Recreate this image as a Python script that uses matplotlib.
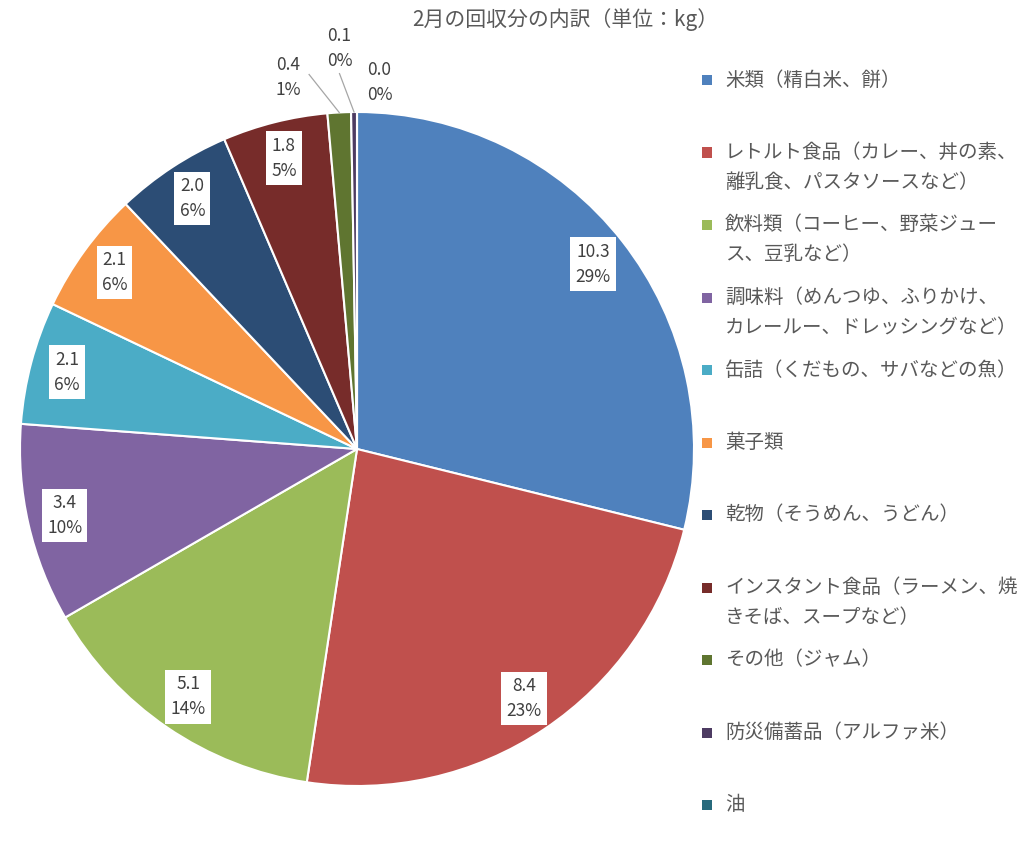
import numpy as np
import matplotlib
matplotlib.use('Agg')
import matplotlib.pyplot as plt

plt.rcParams['font.family'] = ['Noto Sans CJK JP', 'DejaVu Sans']

title = '2月の回収分の内訳（単位：kg）'
categories = ['米類（精白米、餅）',
              'レトルト食品（カレー、丼の素、\n離乳食、パスタソースなど）',
              '飲料類（コーヒー、野菜ジュー\nス、豆乳など）',
              '調味料（めんつゆ、ふりかけ、\nカレールー、ドレッシングなど）',
              '缶詰（くだもの、サバなどの魚）',
              '菓子類',
              '乾物（そうめん、うどん）',
              'インスタント食品（ラーメン、焼\nきそば、スープなど）',
              'その他（ジャム）',
              '防災備蓄品（アルファ米）',
              '油']
values = [10.3, 8.4, 5.1, 3.4, 2.1, 2.1, 2.0, 1.8, 0.4, 0.1, 0.0]
pct_labels = ['29%', '23%', '14%', '10%', '6%', '6%', '6%', '5%', '1%', '0%', '0%']

colors = ['#4F81BD', '#C0504D', '#9BBB59', '#8064A2', '#4BACC6', '#F79646',
          '#2C4D75', '#772C2A', '#5F7530', '#4D3B62', '#276A7C']

W, H = 1024, 857
fig = plt.figure(figsize=(W / 100, H / 100), dpi=100)

# pie axes: centre (357, 449) px, radius 337 px
cx, cy, r = 357, 449, 337
ax = fig.add_axes([(cx - r) / W, 1 - (cy + r) / H, 2 * r / W, 2 * r / H])
wedges, _ = ax.pie(values, colors=colors, startangle=90, counterclock=False,
                   radius=1.0, wedgeprops=dict(edgecolor='white', linewidth=1.5))
ax.set_xlim(-1, 1)
ax.set_ylim(-1, 1)
ax.set_aspect('equal')
ax.axis('off')

# tiny slices get their labels outside: (angle deg, radius, leader start offset or None)
outside = {8: (100.5, 1.12, (0.062, 0.01)),
           9: (92.5, 1.19, (0.0, -0.075)),
           10: (86.5, 1.09, None)}

total = float(sum(values))
cum = 0.0
for i, v in enumerate(values):
    mid = 90 - (cum + v / 2) / total * 360
    cum += v
    txt = '{:.1f}\n{}'.format(v, pct_labels[i])
    if i in outside:
        ang, rad, off = outside[i]
        lx, ly = rad * np.cos(np.radians(ang)), rad * np.sin(np.radians(ang))
        ax.text(lx, ly, txt, ha='center', va='center', fontsize=12.5,
                color='#404040', linespacing=1.5)
        if off is not None:
            ex, ey = np.cos(np.radians(mid)), np.sin(np.radians(mid))
            ax.plot([lx + off[0], ex], [ly + off[1], ey], color='#A6A6A6',
                    linewidth=0.9, clip_on=False)
        continue
    lx, ly = 0.89 * np.cos(np.radians(mid)), 0.89 * np.sin(np.radians(mid))
    ax.text(lx, ly, txt, ha='center', va='center', fontsize=12.5,
            color='#404040', linespacing=1.5,
            bbox=dict(boxstyle='square,pad=0.3', facecolor='white', edgecolor='none'))

fig.text(565 / W, 1 - 20 / H, title, ha='center', va='center',
         fontsize=15, color='#595959')

# legend, drawn by hand so wrapped entries line up like the original
for k, (name, c) in enumerate(zip(categories, colors)):
    y0 = 80 + 72.5 * k
    fig.patches.append(plt.Rectangle(((707 - 5) / W, 1 - (y0 + 5) / H), 10 / W, 10 / H,
                                     transform=fig.transFigure, facecolor=c,
                                     edgecolor='none'))
    for j, line in enumerate(name.split('\n')):
        fig.text(725 / W, 1 - (y0 + 30 * j) / H, line, ha='left', va='center',
                 fontsize=14, color='#595959')

fig.savefig('out.png', dpi=100, facecolor='white')
